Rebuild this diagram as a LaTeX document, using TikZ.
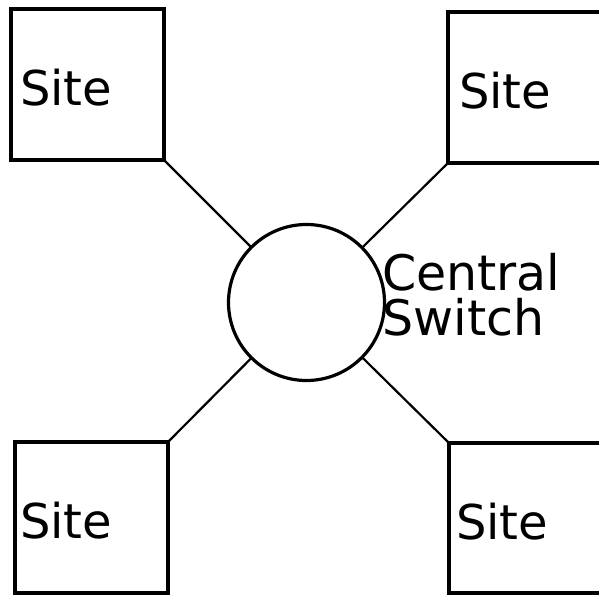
\documentclass[tikz,border=0pt]{standalone}
\usepackage{fontspec}
\setmainfont{DejaVu Sans}
\begin{document}
\begin{tikzpicture}[x=1pt,y=-1pt,
  sitebox/.style={draw,line width=3.2pt,rectangle,outer sep=0pt,
    minimum height=151pt,align=left,text height=42pt,text depth=0pt,
    font=\fontsize{48}{52}\selectfont},
  hub/.style={draw,line width=3.2pt,circle,minimum size=156pt,inner sep=0pt,outer sep=0pt},
  link/.style={line width=2.2pt}]
\clip (0,0) rectangle (599,596);
\fill[white] (0,0) rectangle (599,596);
\node[sitebox,minimum width=153pt,inner xsep=9pt,text width=135pt] (tl) at (87.5,84.5) {Site};
\node[sitebox,minimum width=164pt,inner xsep=11pt,text width=142pt] (tr) at (530,87.5) {Site};
\node[sitebox,minimum width=153pt,inner xsep=5pt,text width=143pt] (bl) at (91.5,517.5) {Site};
\node[sitebox,minimum width=163pt,inner xsep=7pt,text width=149pt,minimum height=150pt] (br) at (530.5,518) {Site};
\node[hub] (sw) at (306.5,302.5) {};
\node[anchor=north west,inner sep=0pt,align=left,font=\fontsize{49}{45}\selectfont] (lbl) at (382,253) {Central\\Switch};
\draw[link] (tl.south east) -- (sw);
\draw[link] (tr.south west) -- (sw);
\draw[link] (bl.north east) -- (sw);
\draw[link] (br.north west) -- (sw);
\end{tikzpicture}
\end{document}
